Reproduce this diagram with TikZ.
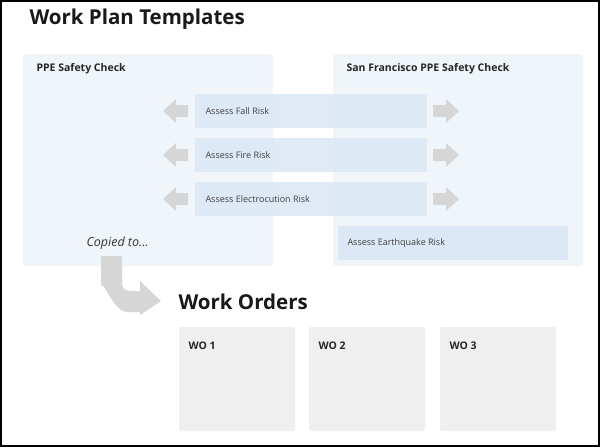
\documentclass[tikz,border=0pt]{standalone}
\usepackage{fontspec}
\setmainfont{Open Sans}
\begin{document}
\begin{tikzpicture}[x=1pt,y=-1pt,
  panel/.style={fill=panelbg,rounded corners=3pt},
  wo/.style={fill=wobg,rounded corners=2pt},
  arr/.style={fill=arrgray},
  lbl/.style={anchor=west,font=\bfseries\fontsize{10.5}{12}\selectfont,text=black!85},
  bartxt/.style={anchor=west,font=\fontsize{9}{10}\selectfont,text=black!75},
  head/.style={anchor=west,font=\bfseries\fontsize{20.5}{22}\selectfont,text=black!90}]
\definecolor{panelbg}{HTML}{F0F5FA}
\definecolor{barbg}{HTML}{DCE8F5}
\definecolor{wobg}{HTML}{EFEFEF}
\definecolor{arrgray}{HTML}{D6D6D6}
\useasboundingbox (0,0) rectangle (600,447);
\fill[white] (0,0) rectangle (600,447);
\draw[line width=2pt] (1,1) rectangle (599,446);
\node[head] (t1) at (26,19) {Work Plan Templates};
\fill[panel] (23,54) rectangle (273,266);
\fill[panel] (333,54) rectangle (583,266);
\node[lbl] (p1) at (33,69) {PPE Safety Check};
\node[lbl] (p2) at (343,69) {San Francisco PPE Safety Check};
\foreach \y/\t in {94/Assess Fall Risk,138/Assess Fire Risk,182/Assess Electrocution Risk}{
  \fill[barbg,opacity=0.9] (195,\y) rectangle (427,\y+34);
  \node[bartxt] at (202,\y+17) {\t};
  \fill[arr] (188,\y+11) -- (176,\y+11) -- (176,\y+5) -- (163,\y+17) -- (176,\y+29) -- (176,\y+23) -- (188,\y+23) -- cycle;
  \fill[arr] (433,\y+11) -- (446,\y+11) -- (446,\y+5) -- (459,\y+17) -- (446,\y+29) -- (446,\y+23) -- (433,\y+23) -- cycle;
}
\fill[barbg] (338,226) rectangle (568,260);
\node[bartxt] (eq) at (344,243) {Assess Earthquake Risk};
\node[anchor=west,font=\itshape\fontsize{12.5}{14}\selectfont,text=black!80] (cp) at (83,243) {Copied to...};
\fill[arr] (101,256) -- (122,256) -- (122,284) to[out=-90,in=180] (130,291) -- (140,291) -- (140,281) -- (161,301) -- (140,315) -- (140,312) -- (127,312) to[out=180,in=90] (101,288) -- cycle;
\node[head] (t2) at (175,302) {Work Orders};
\foreach \x/\t in {179/WO 1,309/WO 2,440/WO 3}{
  \fill[wo] (\x,327) rectangle (\x+116,431);
  \node[lbl] at (\x+6,346) {\t};
}
\end{tikzpicture}
\end{document}
